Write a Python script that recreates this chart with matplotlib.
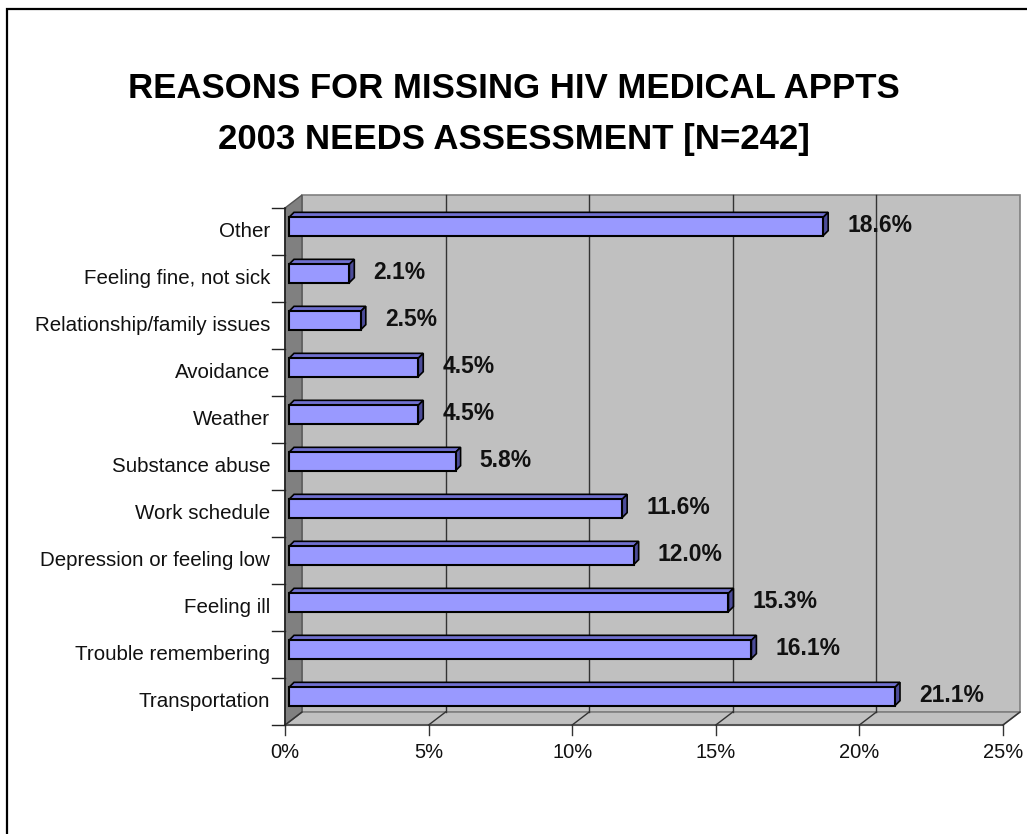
import matplotlib.pyplot as plt
from matplotlib.patches import Rectangle, Polygon

categories = ["Transportation", "Trouble remembering", "Feeling ill",
              "Depression or feeling low", "Work schedule", "Substance abuse",
              "Weather", "Avoidance", "Relationship/family issues",
              "Feeling fine, not sick", "Other"]
values = [21.1, 16.1, 15.3, 12.0, 11.6, 5.8, 4.5, 4.5, 2.5, 2.1, 18.6]
xticks = [0, 5, 10, 15, 20, 25]
title_lines = ["REASONS FOR MISSING HIV MEDICAL APPTS", "2003 NEEDS ASSESSMENT [N=242]"]

DPI = 100
W, H = 1027, 834
fig = plt.figure(figsize=(W / DPI, H / DPI), dpi=DPI)
plt.rcParams['font.family'] = ['Liberation Sans', 'DejaVu Sans']

# front plane of the 3d box, in pixels
left_px, right_px, top_px, bot_px = 285, 1003, 208, 725
ax = fig.add_axes([left_px / W, 1 - bot_px / H,
                   (right_px - left_px) / W, (bot_px - top_px) / H])
xmax = 25
n = len(categories)
ax.set_xlim(0, xmax)
ax.set_ylim(-0.5, n - 0.5)
ax.axis("off")

# pixel -> data units
sx = xmax / (right_px - left_px)
sy = n / (bot_px - top_px)
DX, DY = 17 * sx, 13 * sy          # depth of the box
y0, y1 = -0.5, n - 0.5

# back wall
ax.add_patch(Polygon([(DX, y0 + DY), (xmax + DX, y0 + DY), (xmax + DX, y1 + DY), (DX, y1 + DY)],
                     closed=True, fc="#c0c0c0", ec="#808080", lw=1.2, clip_on=False, zorder=1))
for t in xticks[1:-1]:
    ax.plot([t + DX, t + DX], [y0 + DY, y1 + DY], color="#333333", lw=1, clip_on=False, zorder=2)
# floor
ax.add_patch(Polygon([(0, y0), (xmax, y0), (xmax + DX, y0 + DY), (DX, y0 + DY)],
                     closed=True, fc="#c0c0c0", ec="#808080", lw=1.2, clip_on=False, zorder=1))
ax.plot([0, xmax], [y0, y0], color="#555555", lw=1.5, clip_on=False, zorder=3)
for t in xticks:
    ax.plot([t, t + DX], [y0, y0 + DY], color="#333333", lw=1, clip_on=False, zorder=3)
    ax.plot([t, t], [y0, y0 - 10 * sy], color="#333333", lw=1, clip_on=False, zorder=3)
    ax.text(t, y0 - 18 * sy, f"{t}%", ha="center", va="top", fontsize=14.5, color="#111111")
# side wall
ax.add_patch(Polygon([(0, y0), (DX, y0 + DY), (DX, y1 + DY), (0, y1)],
                     closed=True, fc="#808080", ec="#555555", lw=1, clip_on=False, zorder=2))
ax.plot([0, 0], [y0, y1], color="#222222", lw=1.2, clip_on=False, zorder=3)
for i in range(n + 1):
    ax.plot([-13 * sx, 0], [i - 0.5, i - 0.5], color="#222222", lw=1, clip_on=False, zorder=3)

# bars
bx, by = 4 * sx, 5 * sy           # bar offset from the front plane
ddx, ddy = 5 * sx, 5 * sy         # bar depth
h = 0.39
for i, (cat, v) in enumerate(zip(categories, values)):
    yb, yt = i - h / 2 + by, i + h / 2 + by
    xl, xr = bx, v + bx
    ax.add_patch(Polygon([(xl, yt), (xr, yt), (xr + ddx, yt + ddy), (xl + ddx, yt + ddy)],
                         closed=True, fc="#7070d0", ec="black", lw=1.2, clip_on=False, zorder=4))
    ax.add_patch(Polygon([(xr, yb), (xr + ddx, yb + ddy), (xr + ddx, yt + ddy), (xr, yt)],
                         closed=True, fc="#4c4c99", ec="black", lw=1.2, clip_on=False, zorder=4))
    ax.add_patch(Rectangle((xl, yb), v, h, fc="#9999ff", ec="black", lw=1.5,
                           clip_on=False, zorder=5))
    ax.text(xr + 24 * sx, i + by + 0.02, f"{v:.1f}%", ha="left", va="center",
            fontsize=16.5, fontweight="bold", color="#111111", zorder=6)
    ax.text(-15 * sx, i, cat, ha="right", va="center", fontsize=14.8, color="#111111")

fig.text(0.5, 1 - 88 / H, title_lines[0], ha="center", va="center", fontsize=25,
         fontweight="bold", color="black")
fig.text(0.5, 1 - 140 / H, title_lines[1], ha="center", va="center", fontsize=25,
         fontweight="bold", color="black")

# chart border (runs off the right and bottom edges)
fig.patches.append(Rectangle((7 / W, -0.1), 1.2, 1 - 9 / H + 0.1, transform=fig.transFigure,
                             fill=False, ec="black", lw=1.6))

fig.savefig("out.png", dpi=DPI, facecolor="white")
